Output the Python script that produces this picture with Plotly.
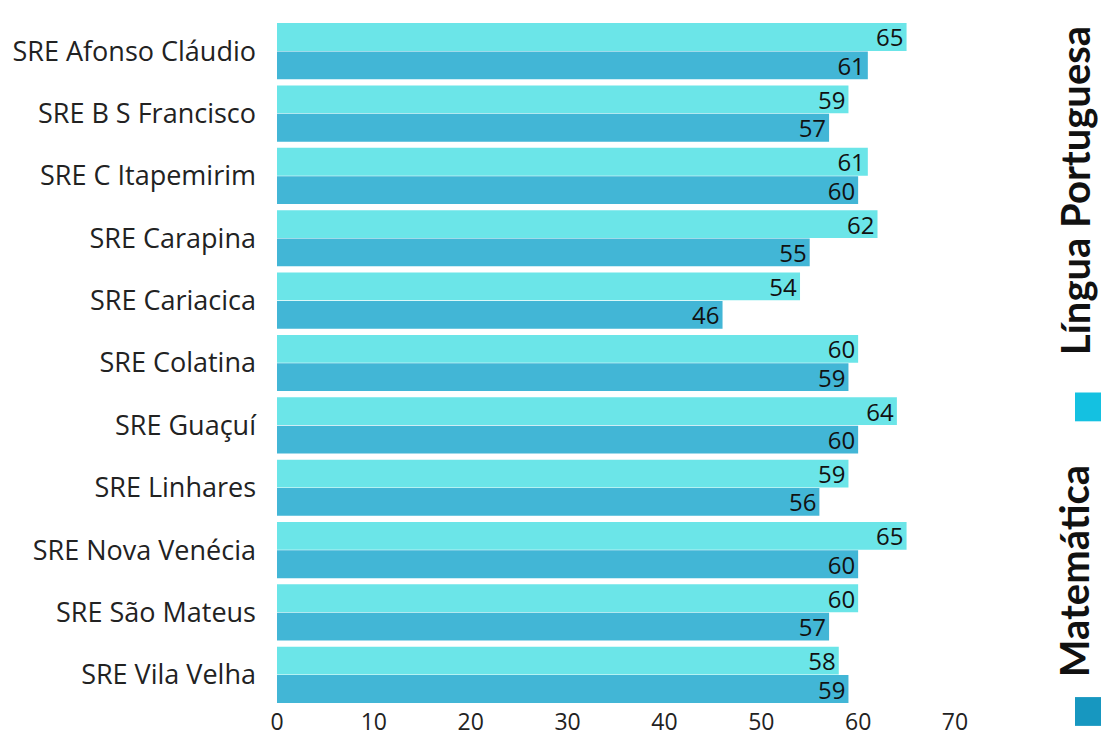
import plotly.graph_objects as go

categories = ["SRE Afonso Cláudio", "SRE B S Francisco", "SRE C Itapemirim", "SRE Carapina",
              "SRE Cariacica", "SRE Colatina", "SRE Guaçuí", "SRE Linhares",
              "SRE Nova Venécia", "SRE São Mateus", "SRE Vila Velha"]
portugues = [65, 59, 61, 62, 54, 60, 64, 59, 65, 60, 58]
matematica = [61, 57, 60, 55, 46, 59, 60, 56, 60, 57, 59]
x_ticks = [0, 10, 20, 30, 40, 50, 60, 70]

FONT = "Open Sans"
fig = go.Figure()
for name, vals, col in [("Língua Portuguesa", portugues, "#6BE5E8"),
                        ("Matemática", matematica, "#42B6D6")]:
    fig.add_trace(go.Bar(
        y=categories, x=vals, name=name, orientation="h",
        marker=dict(color=col, line=dict(width=0)),
        text=vals, textposition="inside", insidetextanchor="end", textangle=0,
        textfont=dict(family=FONT, size=24, color="#111"),
        constraintext="none", showlegend=False, cliponaxis=False,
    ))

fig.update_layout(
    width=1104, height=743,
    margin=dict(l=277, r=149, t=20, b=37, autoexpand=False),
    paper_bgcolor="white", plot_bgcolor="white",
    barmode="group", bargap=0.09, bargroupgap=0.02,
    font=dict(family=FONT, size=24, color="#222"),
    xaxis=dict(range=[0, 70], tickvals=x_ticks, showgrid=False, zeroline=False,
               showline=False, ticks="", tickfont=dict(size=23), automargin=False),
    yaxis=dict(autorange="reversed", showgrid=False, showline=False, ticks="",
               ticklabelstandoff=20, tickfont=dict(size=27), automargin=False),
)

# vertical legend
legend_items = [("Língua Portuguesa", "#14C1E1", 0.751, 0.415),
                ("Matemática", "#1797C0", 0.197, -0.029)]
for label, col, ty, sy in legend_items:
    fig.add_annotation(text="<b>" + label + "</b>", textangle=-90, x=1.176, y=ty,
                       xref="paper", yref="paper", xanchor="center", yanchor="middle",
                       showarrow=False, font=dict(family="Lato", size=40, color="#111"))
    fig.add_shape(type="rect", xref="paper", yref="paper",
                  x0=(1075 - 277) / 678, x1=(1101 - 277) / 678,
                  y0=sy, y1=sy + 0.042, fillcolor=col, line=dict(width=0))

fig.write_html("out.html", config={"displayModeBar": False},
               post_script="document.body.style.margin='0px';")
